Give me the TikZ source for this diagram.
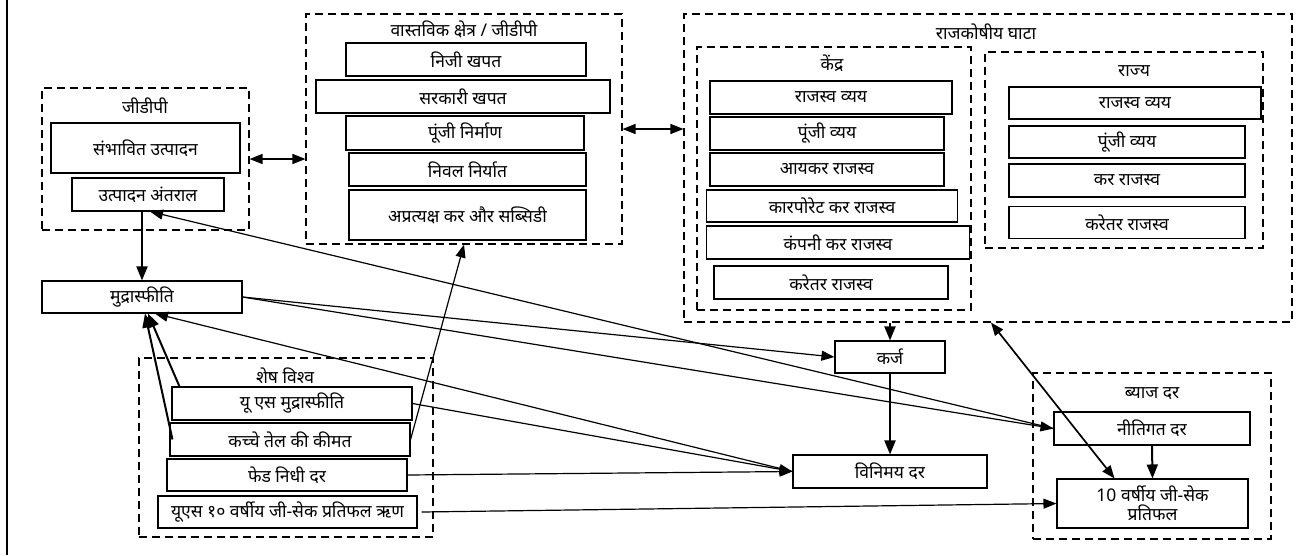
\documentclass[tikz,border=0pt]{standalone}
\usepackage{fontspec}
\setmainfont[Script=Devanagari]{Noto Sans}
\usetikzlibrary{arrows.meta,calc}

\begin{document}
\begin{tikzpicture}[x=1pt,y=-1pt,
  itembox/.style={draw,line width=1.1pt,inner sep=0pt,align=center,font=\fontsize{17.5}{19}\selectfont},
  groupbox/.style={draw,line width=1.1pt,dash pattern=on 8pt off 5pt,inner sep=0pt},
  grouptitle/.style={inner sep=1pt,font=\fontsize{17.5}{19}\selectfont},
  flow/.style={line width=1.2pt,-{Triangle[length=13pt,width=10pt]}},
  mainflow/.style={line width=2pt,-{Triangle[length=14pt,width=11pt]}},
  twoway/.style={line width=1.4pt,{Triangle[length=13pt,width=10pt]}-{Triangle[length=13pt,width=10pt]}}]
  \useasboundingbox (0,0) rectangle (1313,555);
  \draw[line width=1.3pt] (7,0) -- (7,555);

  % GDP
  \node[groupbox,minimum width=207pt,minimum height=142pt] (gdp) at (145.5,159) {};
  \node[grouptitle] (gdpT) at (145,106) {जीडीपी};
  \node[itembox,minimum width=189pt,minimum height=50pt] (potential) at (145.5,148) {संभावित उत्पादन};
  \node[itembox,minimum width=152pt,minimum height=33pt] (gap) at (148,194.5) {उत्पादन अंतराल};

  % real sector
  \node[groupbox,minimum width=316pt,minimum height=230pt] (real) at (464,129) {};
  \node[grouptitle] (realT) at (464,29) {वास्तविक क्षेत्र  / जीडीपी};
  \node[itembox,minimum width=240pt,minimum height=33pt] (pvt) at (466,59.5) {निजी खपत};
  \node[itembox,minimum width=294pt,minimum height=33pt] (govt) at (463,96.5) {सरकारी खपत};
  \node[itembox,minimum width=238pt,minimum height=34pt] (capital) at (465,133) {पूंजी निर्माण};
  \node[itembox,minimum width=237pt,minimum height=33pt] (netexp) at (467.5,169.5) {निवल निर्यात};
  \node[itembox,minimum width=237pt,minimum height=50pt] (indirect) at (467.5,215) {अप्रत्यक्ष कर और सब्सिडी};

  % fiscal deficit
  \node[groupbox,minimum width=608pt,minimum height=308pt] (fiscal) at (988,168) {};
  \node[grouptitle] (fiscalT) at (986,32) {राजकोषीय घाटा};
  \node[groupbox,minimum width=274pt,minimum height=263pt] (centre) at (834,178.5) {};
  \node[grouptitle] (centreT) at (832,63) {केंद्र};
  \node[itembox,minimum width=242pt,minimum height=33pt] (crevexp) at (831,97.5) {राजस्व व्यय};
  \node[itembox,minimum width=234pt,minimum height=33pt] (ccapexp) at (827,133.5) {पूंजी व्यय};
  \node[itembox,minimum width=234pt,minimum height=33pt] (cincome) at (827,169.5) {आयकर राजस्व};
  \node[itembox,minimum width=251pt,minimum height=32pt] (ccorp) at (832,206) {कारपोरेट  कर राजस्व};
  \node[itembox,minimum width=263pt,minimum height=33pt] (ccompany) at (838,242.5) {कंपनी कर राजस्व};
  \node[itembox,minimum width=234pt,minimum height=33pt] (cnontax) at (831,282.5) {करेतर राजस्व};
  \node[groupbox,minimum width=278pt,minimum height=196pt] (state) at (1124,150) {};
  \node[grouptitle] (stateT) at (1134,71) {राज्य};
  \node[itembox,minimum width=252pt,minimum height=32pt] (srevexp) at (1135,103) {राजस्व व्यय};
  \node[itembox,minimum width=236pt,minimum height=32pt] (scapexp) at (1127,142) {पूंजी व्यय};
  \node[itembox,minimum width=236pt,minimum height=33pt] (stax) at (1127,180.5) {कर राजस्व};
  \node[itembox,minimum width=236pt,minimum height=32pt] (snontax) at (1127,222.5) {करेतर राजस्व};

  % inflation, debt, exchange rate
  \node[itembox,minimum width=200pt,minimum height=32pt] (mudra) at (142,297) {मुद्रास्फीति};
  \node[itembox,minimum width=110pt,minimum height=32pt] (karj) at (890,357) {कर्ज};
  \node[itembox,minimum width=194pt,minimum height=33pt] (vinimay) at (890,471.5) {विनिमय दर};

  % rest of world
  \node[groupbox,minimum width=294pt,minimum height=179pt] (world) at (286,447.5) {};
  \node[grouptitle] (worldT) at (285,376) {शेष विश्व};
  \node[itembox,minimum width=240pt,minimum height=33pt] (usinfl) at (292,403.5) {यू एस मुद्रास्फीति};
  \node[itembox,minimum width=240pt,minimum height=33pt] (crude) at (290,439.5) {कच्चे तेल की कीमत};
  \node[itembox,minimum width=240pt,minimum height=32pt] (fed) at (287,475) {फेड निधी दर};
  \node[itembox,minimum width=259pt,minimum height=32pt] (us10) at (287.5,512) {यूएस १० वर्षीय जी-सेक प्रतिफल ऋण};

  % interest rate
  \node[groupbox,minimum width=238pt,minimum height=166pt] (rates) at (1152,456) {};
  \node[grouptitle] (ratesT) at (1152,394) {ब्याज दर};
  \node[itembox,minimum width=196pt,minimum height=33pt] (nitigat) at (1152,428.5) {नीतिगत दर};
  \node[itembox,minimum width=191pt,minimum height=49pt] (gsec) at (1152.5,503.5) {10 वर्षीय जी-सेक\\प्रतिफल};

  \draw[twoway] (gdp.east) -- (gdp.east -| real.west);
  \draw[twoway] (real.east) -- (real.east -| fiscal.west);
  \draw[mainflow] ([xshift=-6pt]gap.south) -- ([xshift=-6pt]gap.south |- mudra.north);
  \draw[flow] (nitigat.west) -- ([xshift=2pt]gap.south);
  \draw[flow] (mudra.east) -- (karj.west);
  \draw[flow] (mudra.east) -- (nitigat.west);
  \draw[flow] (vinimay.west) -- ([xshift=13pt]mudra.south);
  \draw[mainflow] ([xshift=8pt]usinfl.north west) -- ([xshift=6pt]mudra.south);
  \draw[mainflow] ([xshift=3pt]crude.west) -- ([xshift=3pt]mudra.south);
  \draw[flow] (usinfl.east) -- (vinimay.west);
  \draw[flow] (crude.east) -- (real.south);
  \draw[flow] (fed.east) -- (vinimay.west);
  \draw[flow] ([xshift=4pt]us10.east) -- (gsec.west);
  \draw[mainflow] (fiscal.south -| karj.north) -- (karj.north);
  \draw[mainflow] (karj.south) -- (vinimay.north);
  \draw[mainflow] (nitigat.south) -- (gsec.north);
  \draw[twoway,line width=1.7pt] ([xshift=3pt]fiscal.south) -- ([xshift=-38pt]gsec.north);
\end{tikzpicture}
\end{document}
